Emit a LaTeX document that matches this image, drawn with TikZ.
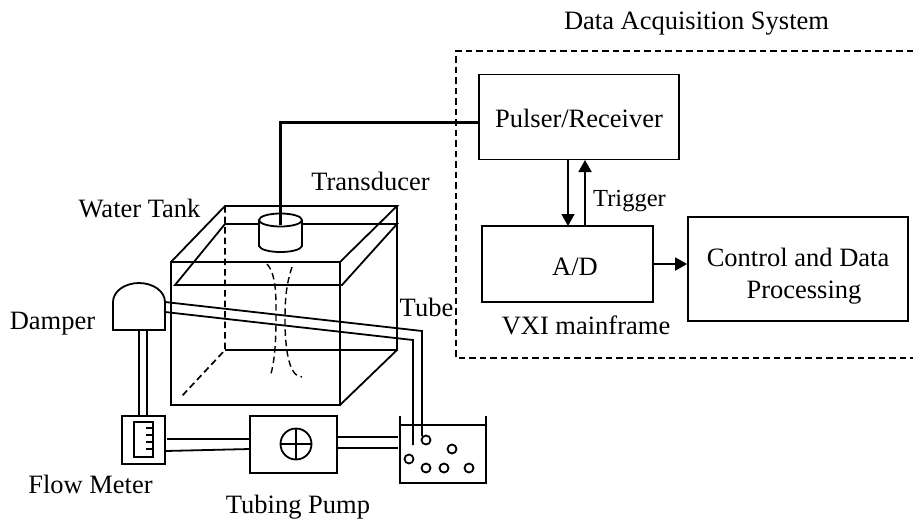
\documentclass[tikz,border=0pt]{standalone}
\usepackage{fontspec}
\setmainfont{Liberation Serif}
\usetikzlibrary{arrows.meta,positioning}

\tikzset{
    lbl/.style={font=\fontsize{26.5}{32}\selectfont,inner sep=0pt,anchor=base},
    box/.style={draw,line width=1.8pt,inner sep=0pt,font=\fontsize{26.5}{32}\selectfont},
    tube/.style={line width=1.8pt},
    cable/.style={line width=3pt},
    hidden/.style={line width=1.7pt,dash pattern=on 6.5pt off 4pt},
    bubble/.style={draw,circle,line width=1.8pt,minimum size=9pt,inner sep=0pt}
}

\begin{document}
\begin{tikzpicture}[%
    x=1pt,y=-1pt,
    >={Triangle[length=12pt,width=13pt]},
    line join=miter
    ]
    \useasboundingbox (0,0) rectangle (917,520);

    % data acquisition side
    \node[box,minimum width=200pt,minimum height=85pt,text height=20pt,text depth=0pt] (pulser) at (579,117) {Pulser/Receiver};
    \node[box,minimum width=171pt,minimum height=76pt,text height=22pt,text depth=0pt] (ad) at (567.5,264) {\hspace{15pt}A/D};
    \node[box,minimum width=220pt,minimum height=104pt,align=center] (ctrl) at (798,269) {\rule{0pt}{32pt}Control and Data\\\hspace*{12pt}Processing};
    \node[lbl] (vxi) [below=13pt of ad,xshift=18.5pt] {VXI mainframe};
    \node[lbl] (das) at (696.5,29) {Data Acquisition System};
    \node[lbl,font=\fontsize{24.5}{29}\selectfont] (trig) at (629.5,206) {Trigger};

    \coordinate (dasnw) at (456,51);
    \coordinate (dasne) at (913,51);
    \coordinate (dassw) at (456,358);
    \coordinate (dasse) at (913,358);
    \draw[hidden] (dasne) -- (dasnw) -- (dassw) -- (dasse);

    \coordinate (adout) at (568,226);
    \coordinate (pulin) at (568,160);
    \coordinate (adtrig) at (585,226);
    \coordinate (pultrig) at (585,160);
    \draw[->,line width=1.8pt] (pulin) -- (adout);
    \draw[->,line width=1.8pt] (adtrig) -- (pultrig);
    \draw[->,line width=1.8pt] (ad.east) -- (ad.east -| ctrl.west);

    % water tank
    \draw[tube] (171,262) rectangle (340,405);
    \draw[tube] (171,262) -- (225,206) -- (397,206) -- (340,262);
    \draw[tube] (397,206) -- (397,350) -- (340,405);
    \draw[tube] (225,350) -- (397,350);
    \draw[hidden] (225,206) -- (225,350) -- (181,397);
    % water level
    \draw[tube] (259,224) -- (225,224) -- (175,285) -- (342,285) -- (397,224) -- (302,224);
    % jet
    \draw[hidden,line width=1.4pt] (267,264) .. controls (277,275) and (276,300) .. (276,320) .. controls (276,345) and (274,365) .. (270,377);
    \draw[hidden,line width=1.4pt] (292,267) .. controls (286,285) and (285,300) .. (285,320) .. controls (285,345) and (288,377) .. (302,377);

    % transducer
    \draw[tube,fill=white] (259,220) -- (259,246) .. controls (262,254) and (299,254) .. (302,246) -- (302,220);
    \draw[tube,fill=white] (280.5,220) ellipse [x radius=21.5,y radius=6.5];
    \coordinate (cup) at (280,225);
    \coordinate (pulwest) at (479,122);
    \draw[cable] (cup) |- (pulwest);
    \node[lbl] (trans) at (370.5,190) {Transducer};
    \node[lbl] (tank) at (139.5,217) {Water Tank};
    \node[lbl] (tubelbl) at (426.5,316) {Tube};

    % damper
    \draw[tube] (113,330) -- (113,302) arc [start angle=180,end angle=360,x radius=26,y radius=19] -- (165,330) -- cycle;
    \node[lbl] (damper) at (52.5,329) {Damper};
    \coordinate (dampa) at (165,302);
    \coordinate (dampb) at (165,312);
    \coordinate (dampc) at (139,330);
    \coordinate (dampd) at (147,330);

    % flow meter
    \node[box,minimum width=43pt,minimum height=48pt] (flow) at (143.5,440) {};
    \node[draw,line width=1.8pt,minimum width=19pt,minimum height=35pt,inner sep=0pt] (scale) at (143.5,439.5) {};
    \foreach \y in {428,435,442,449}
        \draw[line width=1.4pt] (146,\y) -- (scale.east |- 0,\y);
    \node[lbl] (flowlbl) at (90.5,493) {Flow Meter};

    % tubing pump
    \node[box,minimum width=87pt,minimum height=57pt] (pump) at (293.5,444.5) {};
    \node[draw,circle,line width=1.8pt,minimum size=31pt,inner sep=0pt] (rotor) at (296,444) {};
    \draw[line width=1.4pt] (rotor.north) -- (rotor.south);
    \draw[line width=1.4pt] (rotor.west) -- (rotor.east);
    \node[lbl] (pumplbl) at (298,513) {Tubing Pump};

    % beaker
    \draw[tube] (400,416) -- (400,483) -- (486,483) -- (486,416);
    \draw[tube] (400,425) -- (486,425);
    \foreach \n/\x/\y in {a/426/440,b/452/449,c/409/459,d/426/468,e/444/468,f/469/468}
        \node[bubble] (bub\n) at (\x,\y) {};

    % tubes
    \coordinate (benda) at (422,331);
    \coordinate (bendb) at (413,340);
    \coordinate (endb) at (413,445);
    \coordinate (floweast) at (167,439);
    \coordinate (flowsouth) at (165,451);
    \coordinate (pumpa) at (250,439);
    \coordinate (pumpb) at (250,449);
    \coordinate (pumpc) at (337,437);
    \coordinate (pumpd) at (337,448);
    \coordinate (beaka) at (398,437);
    \coordinate (beakb) at (398,448);
    \draw[tube] (dampa) -- (benda) -- (benda |- buba.north west);
    \draw[tube] (dampb) -- (bendb) -- (endb);
    \draw[tube] (dampc) -- (dampc |- flow.north);
    \draw[tube] (dampd) -- (dampd |- flow.north);
    \draw[tube] (floweast) -- (pumpa);
    \draw[tube] (flowsouth) -- (pumpb);
    \draw[tube] (pumpc) -- (beaka);
    \draw[tube] (pumpd) -- (beakb);
\end{tikzpicture}
\end{document}
